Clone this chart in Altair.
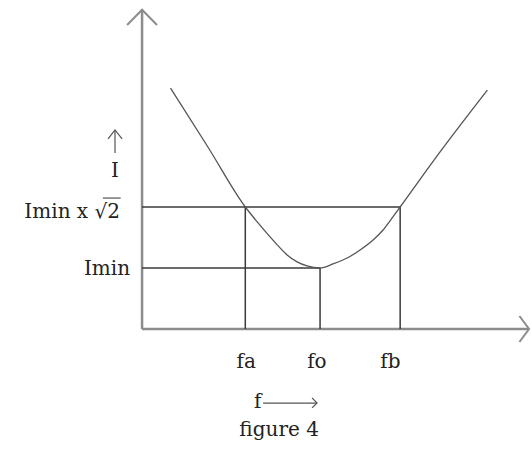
import altair as alt
import pandas as pd

# Resonance curve of a series circuit: current I against frequency f
curve_f = [1.6, 3.7, 5.8, 6.46, 7.02, 7.58, 8.15, 8.71, 9.27, 10.0, 10.73, 11.52,
           12.25, 12.98, 13.54, 14.04, 14.5, 16.7, 19.4]
curve_i = [11.85, 8.95, 6.0, 5.28, 4.7, 4.15, 3.64, 3.3, 3.1, 3.0, 3.2, 3.49,
           3.89, 4.38, 4.87, 5.45, 6.0, 8.66, 11.75]

# marked frequencies and current levels
f_names = ["fa", "fo", "fb"]
f_values = [5.8, 10.0, 14.5]
f_text_pos = [5.85, 9.82, 13.95]
i_min = 3.0
i_root2 = 6.0

# extent of the drawing in f / I units
x_domain = [-7.98, 21.85]
y_domain = [-5.95, 16.18]
f_axis_end = 21.7
i_axis_end = 15.7

FONT = "DejaVu Serif"
FS = 20
INK = "#222222"

xs = alt.Scale(domain=x_domain, nice=False, zero=False)
ys = alt.Scale(domain=y_domain, nice=False, zero=False)
X = lambda f: alt.X(f, type="quantitative", scale=xs, axis=None)
Y = lambda f: alt.Y(f, type="quantitative", scale=ys, axis=None)
X2 = lambda f: alt.X2(f)
Y2 = lambda f: alt.Y2(f)

# axes with arrow heads
axes_df = pd.DataFrame({
    "x": [0, 0], "x2": [f_axis_end, 0],
    "y": [0, 0], "y2": [0, i_axis_end],
})
axes = alt.Chart(axes_df).mark_rule(color="#8c8c8c", strokeWidth=2.5).encode(
    x=X("x"), x2=X2("x2"), y=Y("y"), y2=Y2("y2"))

heads_df = pd.DataFrame({
    "seg": ["y"] * 3 + ["x"] * 3 + ["f"] * 3 + ["i"] * 3,
    "k": [0, 1, 2] * 4,
    "x": [-0.84, 0, 0.84, 21.2, 21.74, 21.2, 9.55, 9.83, 9.55, -1.91, -1.52, -1.12],
    "y": [14.95, i_axis_end, 14.95, 0.64, 0, -0.64, -3.39, -3.64, -3.88, 9.35, 9.79, 9.35],
})
heads_axes = alt.Chart(heads_df[heads_df.seg.isin(["x", "y"])]).mark_line(
    color="#8c8c8c", strokeWidth=2).encode(
    x=X("x"), y=Y("y"), detail="seg:N", order="k:Q")
heads_small = alt.Chart(heads_df[heads_df.seg.isin(["f", "i"])]).mark_line(
    color="#555555", strokeWidth=1.2).encode(
    x=X("x"), y=Y("y"), detail="seg:N", order="k:Q")

# shafts of the small arrows next to the f and I symbols, and the bar of the root sign
shafts_df = pd.DataFrame({
    "x": [6.8, -1.52, -2.2], "x2": [9.83, -1.52, -1.2],
    "y": [-3.64, 8.66, 6.44], "y2": [-3.64, 9.79, 6.44],
})
shafts = alt.Chart(shafts_df).mark_rule(color="#555555", strokeWidth=1.2).encode(
    x=X("x"), x2=X2("x2"), y=Y("y"), y2=Y2("y2"))

# construction lines
guides_df = pd.DataFrame({
    "x": [0, 0, f_values[0], f_values[1], f_values[2]],
    "x2": [f_values[2], f_values[1], f_values[0], f_values[1], f_values[2]],
    "y": [i_root2, i_min, 0, 0, 0],
    "y2": [i_root2, i_min, i_root2, i_min, i_root2],
})
guides = alt.Chart(guides_df).mark_rule(color="#3a3a3a", strokeWidth=1.5).encode(
    x=X("x"), x2=X2("x2"), y=Y("y"), y2=Y2("y2"))

curve_df = pd.DataFrame({"f": curve_f, "i": curve_i})
curve = alt.Chart(curve_df).mark_line(
    color="#555555", strokeWidth=1.3, interpolate="monotone").encode(
    x=X("f"), y=Y("i"))

# text
left_df = pd.DataFrame({"x": [-1.24, -0.67], "y": [5.75, 2.95],
                        "t": ["Imin x \u221a2", "Imin"]})
left_text = alt.Chart(left_df).mark_text(
    font=FONT, fontSize=FS, align="right", baseline="middle", color=INK).encode(
    x=X("x"), y=Y("y"), text="t:N")

flab_df = pd.DataFrame({"x": f_text_pos, "y": [-1.62] * 3, "t": f_names})
f_text = alt.Chart(flab_df).mark_text(
    font=FONT, fontSize=FS, align="center", baseline="middle", color=INK).encode(
    x=X("x"), y=Y("y"), text="t:N")

misc_df = pd.DataFrame({"x": [6.49, -1.52, 7.7], "y": [-3.6, 7.77, -4.97],
                        "t": ["f", "I", "figure 4"]})
misc_text = alt.Chart(misc_df).mark_text(
    font=FONT, fontSize=FS, align="center", baseline="middle", color=INK).encode(
    x=X("x"), y=Y("y"), text="t:N")

chart = alt.layer(
    axes, heads_axes, guides, curve, shafts, heads_small, left_text, f_text, misc_text
).properties(
    width=531, height=450, padding=0, autosize=alt.AutoSizeParams(type="none"),
    background="white",
).configure_view(stroke=None)

chart.save("out.html", embed_options={"renderer": "svg", "actions": False})
